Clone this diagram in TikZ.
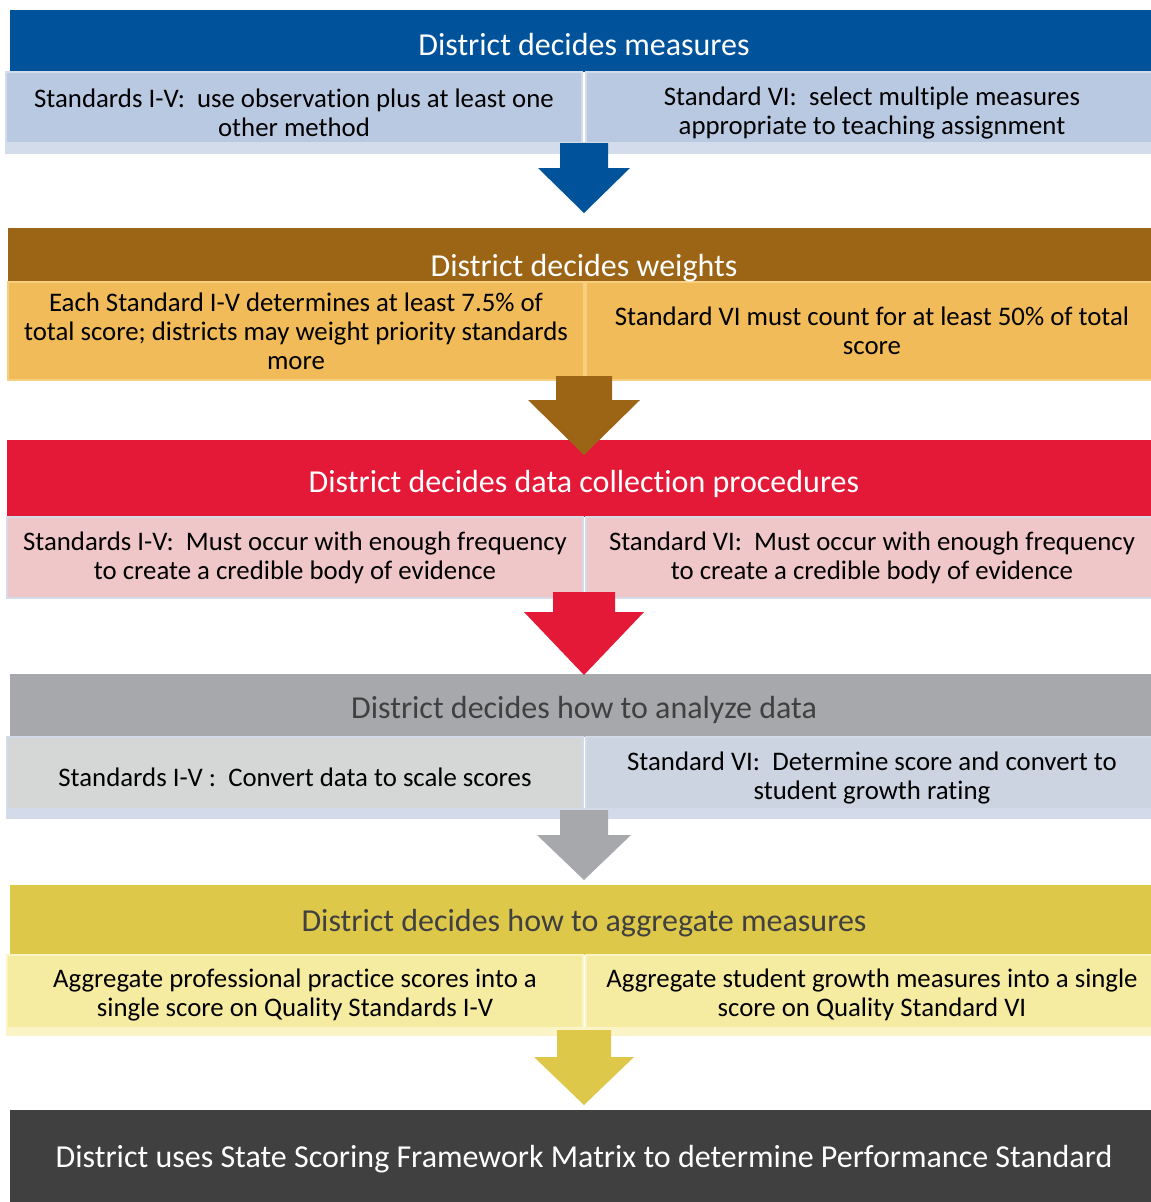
\documentclass[tikz,border=0pt]{standalone}
\usepackage{fontspec}
\setmainfont{Carlito}[Ligatures=CommonOff]
\usetikzlibrary{calc}
\definecolor{blueH}{HTML}{00539B}
\definecolor{blueS}{HTML}{B9C9E2}
\definecolor{blueB}{HTML}{D3DCEB}
\definecolor{brownH}{HTML}{9C6415}
\definecolor{brownS}{HTML}{F0BB58}
\definecolor{brownB}{HTML}{F6CF80}
\definecolor{redH}{HTML}{E31937}
\definecolor{redS}{HTML}{F0C7C9}
\definecolor{redB}{HTML}{D5DBE8}
\definecolor{grayH}{HTML}{A7A8AB}
\definecolor{grayL}{HTML}{D5D7D7}
\definecolor{grayR}{HTML}{CCD4E2}
\definecolor{grayB}{HTML}{D3DBEA}
\definecolor{mustH}{HTML}{DEC84A}
\definecolor{mustS}{HTML}{F5EBA1}
\definecolor{mustB}{HTML}{FAF4C6}
\definecolor{darkH}{HTML}{404040}
\definecolor{titleDark}{HTML}{404040}
\newcommand\myblkarrow[6]{%
  \fill[#1] ($(#2)+(-#4,0)$) -- ($(#2)+(#4,0)$) -- ($(#3)+(#4,-#6)$) -- ($(#3)+(#5,-#6)$) -- (#3) -- ($(#3)+(-#5,-#6)$) -- ($(#3)+(-#4,-#6)$) -- cycle;}
\begin{document}
\begin{tikzpicture}[x=1pt,y=-1pt,
  hdr/.style={rectangle, inner sep=0pt, outer sep=0pt, anchor=north west, minimum width=1150pt},
  ttl/.style={inner sep=0pt, font=\fontsize{32}{38}\selectfont, anchor=center},
  sub/.style={rectangle, inner sep=0pt, outer sep=0pt, anchor=north west, line width=2.5pt, align=center, font=\fontsize{26.8}{29}\selectfont},
]
\useasboundingbox (0,0) rectangle (1151,1202);
\clip (0,0) rectangle (1151,1202);
\fill[white] (0,0) rectangle (1151,1202);

% ---- Row 1
\node[hdr, fill=blueH, minimum height=62pt] (h1) at (10,10) {};
\node[ttl, text=white] (t1) at (584,44.5) {District decides measures};
\node[sub, fill=blueS, draw=blueB, minimum width=576pt, minimum height=81pt] (l1) at (6,72) {Standards I-V:\ \ use observation plus at least one\\other method};
\node[sub, fill=blueS, draw=blueB, minimum width=572pt, minimum height=81pt] (r1) at (586,72) {Standard VI:\ \ select multiple measures\\appropriate to teaching assignment};
\fill[blueB] (6,142) rectangle (1160,153);

% ---- Row 2
\node[hdr, fill=brownH, minimum height=54pt] (h2) at (8,228) {};
\node[sub, fill=brownS, draw=brownB, minimum width=576pt, minimum height=98pt] (l2) at (8,282) {Each Standard I-V determines at least 7.5\% of\\total score; districts may weight priority standards\\more};
\node[sub, fill=brownS, draw=brownB, minimum width=572pt, minimum height=98pt] (r2) at (586,282) {Standard VI must count for at least 50\% of total\\score};
\node[ttl, text=white] (t2) at (584,268.5) {District decides weights};

% ---- Row 3
\node[hdr, fill=redH, minimum height=77pt] (h3) at (7,440) {};
\node[ttl, text=white] (t3) at (584,483.5) {District decides data collection procedures};
\node[sub, fill=redS, draw=redB, minimum width=576pt, minimum height=81pt] (l3) at (7,517) {Standards I-V:\ \ Must occur with enough frequency\\to create a credible body of evidence};
\node[sub, fill=redS, draw=redB, minimum width=572pt, minimum height=81pt] (r3) at (586,517) {Standard VI:\ \ Must occur with enough frequency\\to create a credible body of evidence};

% ---- Row 4
\node[hdr, fill=grayH, minimum height=63pt] (h4) at (10,674) {};
\node[ttl, text=titleDark] (t4) at (584,709.5) {District decides how to analyze data};
\node[sub, fill=grayL, draw=grayB, minimum width=576pt, minimum height=81pt] (l4) at (7,737) {Standards I-V :\ \ Convert data to scale scores};
\node[sub, fill=grayR, draw=grayB, minimum width=572pt, minimum height=81pt] (r4) at (586,737) {Standard VI:\ \ Determine score and convert to\\student growth rating};
\fill[grayB] (7,808) rectangle (1160,818);

% ---- Row 5
\node[hdr, fill=mustH, minimum height=70pt] (h5) at (10,885) {};
\node[ttl, text=titleDark] (t5) at (584,923.5) {District decides how to aggregate measures};
\node[sub, fill=mustS, draw=mustB, minimum width=576pt, minimum height=80pt] (l5) at (7,955) {Aggregate professional practice scores into a\\single score on Quality Standards I-V};
\node[sub, fill=mustS, draw=mustB, minimum width=572pt, minimum height=80pt] (r5) at (586,955) {Aggregate student growth measures into a single\\score on Quality Standard VI};
\fill[mustB] (7,1027) rectangle (1160,1035);

% ---- Row 6
\node[hdr, fill=darkH, minimum height=100pt] (h6) at (10,1110) {};
\node[ttl, text=white] (t6) at (584,1159.5) {District uses State Scoring Framework Matrix to determine Performance Standard};

% ---- Arrows
\coordinate (a1s) at (584,143); \coordinate (a1t) at (584,213);
\coordinate (a2s) at (584,376); \coordinate (a2t) at (584,455);
\coordinate (a3s) at (584,592); \coordinate (a3t) at (584,675);
\coordinate (a4s) at (584,810); \coordinate (a4t) at (584,880);
\coordinate (a5s) at (584,1030); \coordinate (a5t) at (584,1105);
\myblkarrow{blueH}{a1s}{a1t}{24}{46}{45}
\myblkarrow{brownH}{a2s}{a2t}{28}{56}{55}
\myblkarrow{redH}{a3s}{a3t}{31}{60}{63}
\myblkarrow{grayH}{a4s}{a4t}{24}{47}{45}
\myblkarrow{mustH}{a5s}{a5t}{27}{50}{48}
\end{tikzpicture}
\end{document}
